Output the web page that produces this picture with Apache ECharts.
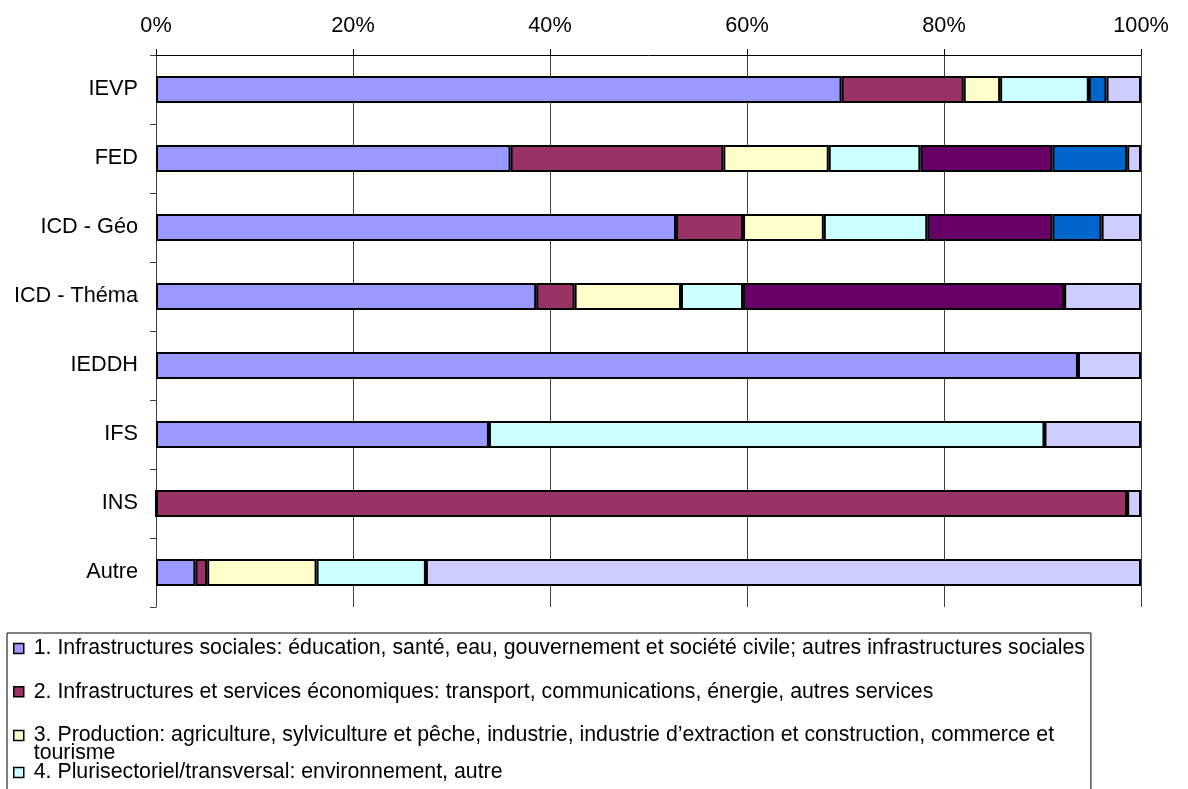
<!DOCTYPE html>
<html>
<head>
<meta charset="utf-8">
<script src="https://cdn.jsdelivr.net/npm/echarts@6/dist/echarts.min.js"></script>
<style>
  html, body { margin: 0; padding: 0; background: #ffffff; overflow: hidden; }
  #chart { width: 1188px; height: 789px; }
</style>
</head>
<body>
<div id="chart"></div>
<script>
// Categories (top to bottom)
const categories = ['IEVP', 'FED', 'ICD - Géo', 'ICD - Théma', 'IEDDH', 'IFS', 'INS', 'Autre'];

// Series names
const seriesNames = [
  '1. Infrastructures sociales: éducation, santé, eau, gouvernement et société civile; autres infrastructures sociales',
  '2. Infrastructures et services économiques: transport, communications, énergie, autres services',
  '3. Production: agriculture, sylviculture et pêche, industrie, industrie d\u2019extraction et construction, commerce et tourisme',
  '4. Plurisectoriel/transversal: environnement, autre',
  '5. Aide-programme et aide sous forme de produits',
  '6. Aide humanitaire',
  '7. Autres / non ventilé'
];

// Shares (%) per series, in category order
const s1 = [69.6, 36.0, 52.8, 38.6, 93.6, 33.8, 0, 4.0];
const s2 = [12.4, 21.6, 6.8, 3.9, 0, 0, 98.6, 1.2];
const s3 = [3.7, 10.7, 8.2, 10.8, 0, 0, 0, 11.1];
const s4 = [9.0, 9.3, 10.5, 6.3, 0, 56.4, 0, 11.1];
const s5 = [0, 13.4, 12.7, 32.6, 0, 0, 0, 0];
const s6 = [1.8, 7.6, 5.0, 0, 0, 0, 0, 0];
const s7 = [3.5, 1.4, 4.0, 7.8, 6.4, 9.8, 1.4, 72.6];

const seriesValues = [s1, s2, s3, s4, s5, s6, s7];
const seriesColors = ['#9999FF', '#993366', '#FFFFCC', '#CCFFFF', '#660066', '#0066CC', '#CCCCFF'];

// X-axis ticks
const xMin = 0, xMax = 100, xStep = 20;

const FONT = '"Liberation Sans", Arial, sans-serif';
const AXIS_FS = 21.7;
const LEG_FS = 21.3;

const chart = echarts.init(document.getElementById('chart'), null, { renderer: 'canvas' });

const series = seriesNames.map((name, i) => ({
  name: name,
  type: 'bar',
  stack: 'total',
  barWidth: 27,
  data: seriesValues[i],
  itemStyle: { color: seriesColors[i], borderColor: '#000000', borderWidth: 2 },
  emphasis: { disabled: true },
  animation: false
}));

const legendText = {
  fontSize: LEG_FS, color: '#000', fontFamily: FONT, padding: [0, 0, 0, 5],
  rich: {
    a: { fontSize: LEG_FS, color: '#000', fontFamily: FONT, lineHeight: 14 },
    b: { fontSize: LEG_FS, color: '#000', fontFamily: FONT, lineHeight: 1, verticalAlign: 'top', padding: [1, 0, 0, 0] }
  }
};
function legendFormatter(name) {
  const cut = ' tourisme';
  if (name.endsWith(cut)) {
    return '{a|' + name.slice(0, name.length - cut.length) + '}\n{b|' + cut.trim() + '}';
  }
  return name;
}
const legendCommon = {
  orient: 'vertical',
  left: 7,
  height: 600,
  itemGap: 22.2,
  itemWidth: 10,
  itemHeight: 10,
  selectedMode: false,
  icon: 'rect',
  itemStyle: { borderColor: '#000', borderWidth: 1.5 },
  textStyle: legendText,
  formatter: legendFormatter
};

const option = {
  animation: false,
  backgroundColor: '#ffffff',
  textStyle: { fontFamily: FONT, color: '#000' },
  grid: { left: 156, right: 47, top: 55, bottom: 182, containLabel: false },
  xAxis: {
    type: 'value',
    position: 'top',
    min: xMin, max: xMax, interval: xStep,
    axisLine: { show: true, lineStyle: { color: '#000', width: 1 } },
    axisTick: { show: true, length: 6, lineStyle: { color: '#000' } },
    axisLabel: { formatter: '{value}%', fontSize: AXIS_FS, color: '#000', fontFamily: FONT, margin: 18 },
    splitLine: { show: true, lineStyle: { color: '#404040', width: 1 } }
  },
  yAxis: {
    type: 'category',
    inverse: true,
    data: categories,
    axisLine: { show: true, lineStyle: { color: '#404040', width: 1 } },
    axisTick: { show: true, length: 6, lineStyle: { color: '#404040' } },
    axisLabel: { fontSize: AXIS_FS, color: '#000', fontFamily: FONT, margin: 18 }
  },
  legend: [
    Object.assign({}, legendCommon, {
      top: 633,
      padding: [5, 6, 220, 6],
      borderColor: '#000',
      borderWidth: 1,
      data: seriesNames.slice(0, 3)
    }),
    Object.assign({}, legendCommon, {
      top: 762,
      padding: [0, 6, 0, 6],
      data: seriesNames.slice(3)
    })
  ],
  series: series
};

chart.setOption(option);
</script>
</body>
</html>
